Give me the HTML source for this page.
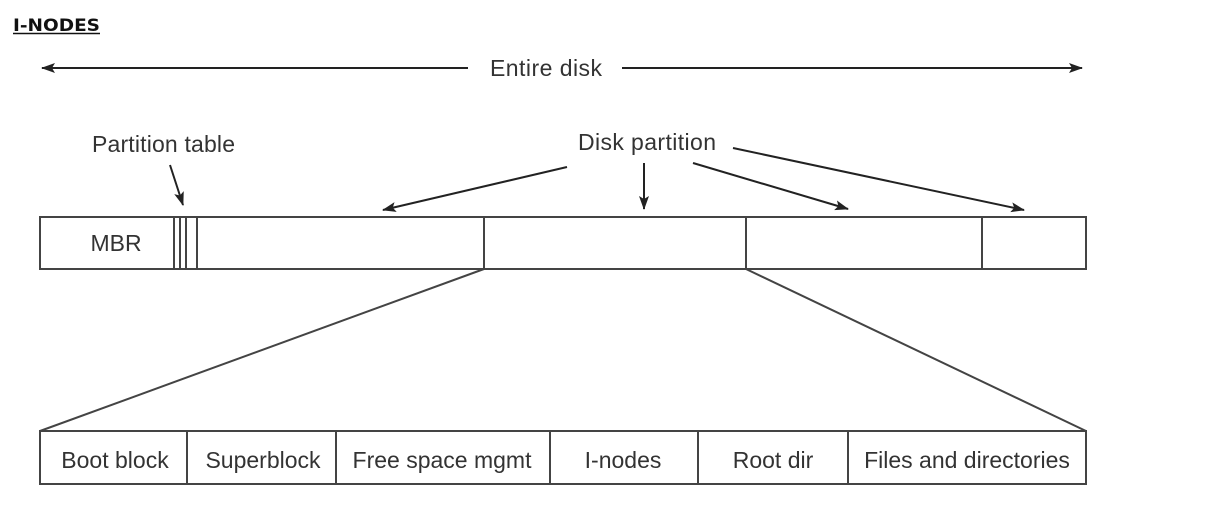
<!DOCTYPE html>
<html><head><meta charset="utf-8"><style>
html,body{margin:0;padding:0;background:#fff;width:1209px;height:505px;overflow:hidden}
svg{display:block}
text{font-family:"Liberation Sans",Arial,sans-serif;fill:#333}
</style></head><body>
<svg width="1209" height="505" viewBox="0 0 1209 505">
<defs><marker id="a" markerWidth="14" markerHeight="10" refX="13" refY="5" orient="auto" markerUnits="userSpaceOnUse"><path d="M0,0 L14,5 L0,10 L3,5 Z" fill="#222"/></marker></defs>
<text x="13" y="31" style="font-weight:bold;font-size:17px;fill:#111;font-family:'DejaVu Sans','Liberation Sans',sans-serif" textLength="87" lengthAdjust="spacingAndGlyphs">I-NODES</text>
<line x1="13" y1="33.5" x2="100" y2="33.5" stroke="#111" stroke-width="1.5"/>
<g stroke="#222" stroke-width="2" fill="none">
<line x1="468" y1="68" x2="42" y2="68" marker-end="url(#a)"/>
<line x1="622" y1="68" x2="1082" y2="68" marker-end="url(#a)"/>
<line x1="170" y1="165" x2="183" y2="205" marker-end="url(#a)"/>
<line x1="567" y1="167" x2="383" y2="210" marker-end="url(#a)"/>
<line x1="644" y1="163" x2="644" y2="209" marker-end="url(#a)"/>
<line x1="693" y1="163" x2="848" y2="209" marker-end="url(#a)"/>
<line x1="733" y1="148" x2="1024" y2="210" marker-end="url(#a)"/>
</g>
<g stroke="#444" stroke-width="2" fill="none">
<rect x="40" y="217" width="1046" height="52"/>
<line x1="174" y1="217" x2="174" y2="269"/>
<line x1="180" y1="217" x2="180" y2="269"/>
<line x1="186" y1="217" x2="186" y2="269"/>
<line x1="197" y1="217" x2="197" y2="269"/>
<line x1="484" y1="217" x2="484" y2="269"/>
<line x1="746" y1="217" x2="746" y2="269"/>
<line x1="982" y1="217" x2="982" y2="269"/>
<line x1="484" y1="269" x2="40" y2="431"/>
<line x1="746" y1="269" x2="1086" y2="431"/>
<rect x="40" y="431" width="1046" height="53"/>
<line x1="187" y1="431" x2="187" y2="484"/>
<line x1="336" y1="431" x2="336" y2="484"/>
<line x1="550" y1="431" x2="550" y2="484"/>
<line x1="698" y1="431" x2="698" y2="484"/>
<line x1="848" y1="431" x2="848" y2="484"/>
</g>
<g style="font-size:23px">
<text x="490" y="76" textLength="112">Entire disk</text>
<text x="92" y="152" textLength="143">Partition table</text>
<text x="578" y="150" textLength="138">Disk partition</text>
<text x="116" y="251" text-anchor="middle">MBR</text>
<text x="115" y="468" text-anchor="middle">Boot block</text>
<text x="263" y="468" text-anchor="middle">Superblock</text>
<text x="442" y="468" text-anchor="middle">Free space mgmt</text>
<text x="623" y="468" text-anchor="middle">I-nodes</text>
<text x="773" y="468" text-anchor="middle">Root dir</text>
<text x="967" y="468" text-anchor="middle">Files and directories</text>
</g>
</svg>
</body></html>
